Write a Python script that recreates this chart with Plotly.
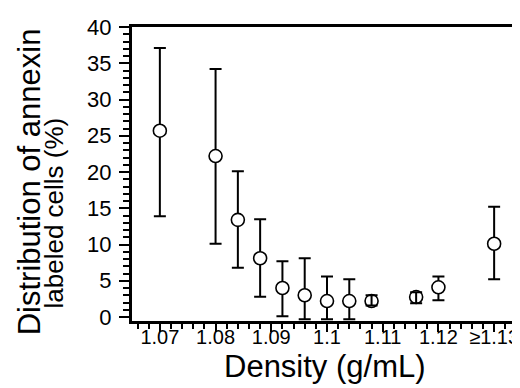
import plotly.graph_objects as go

density = [1.07, 1.08, 1.084, 1.088, 1.092, 1.096, 1.10, 1.104, 1.108, 1.116, 1.12, 1.13]
mean_pct = [25.7, 22.2, 13.4, 8.1, 4.0, 3.0, 2.2, 2.2, 2.2, 2.75, 4.1, 10.1]
upper = [37.1, 34.2, 20.1, 13.5, 7.7, 8.1, 5.6, 5.2, 3.0, 3.4, 5.6, 15.2]
lower = [13.9, 10.1, 6.8, 2.8, 0.1, -0.3, -0.3, -0.3, 1.6, 1.9, 2.3, 5.2]

tick_vals = [1.07, 1.08, 1.09, 1.10, 1.11, 1.12, 1.13]
tick_text = ["1.07", "1.08", "1.09", "1.1", "1.11", "1.12", "≥1.13"]
y_ticks = [0, 5, 10, 15, 20, 25, 30, 35, 40]

x_title = "Density (g/mL)"
y_title_lines = ["Distribution of annexin", "labeled cells (%)"]

err_plus = [u - m for u, m in zip(upper, mean_pct)]
err_minus = [m - l for m, l in zip(mean_pct, lower)]
fill = ["white" if (u - l) > 3 else "rgba(0,0,0,0)" for u, l in zip(upper, lower)]

fig = go.Figure()
fig.add_trace(go.Scatter(
    x=density, y=mean_pct, mode="markers",
    marker=dict(symbol="circle", size=13, color=fill,
                line=dict(color="black", width=1.6)),
    error_y=dict(type="data", array=err_plus, arrayminus=err_minus,
                 color="black", thickness=2, width=6),
    showlegend=False, cliponaxis=False,
))

font = "Liberation Sans, Arial, Helvetica, sans-serif"
fig.update_layout(
    width=520, height=388,
    margin=dict(l=124, r=3, t=19, b=75),
    paper_bgcolor="white", plot_bgcolor="white",
    font=dict(family=font, color="black"),
    xaxis=dict(
        range=[1.065, 1.135], tickvals=tick_vals, ticktext=tick_text,
        ticks="outside", ticklen=8, tickwidth=1.5, tickcolor="black",
        showline=True, linewidth=3, linecolor="black", mirror=True,
        showgrid=False, zeroline=False,
        tickfont=dict(size=20, family=font), ticklabelstandoff=-12,
        minor=dict(dtick=0.002, tick0=1.066, ticks="outside", ticklen=5,
                   tickwidth=1.5, tickcolor="black", showgrid=False),
    ),
    yaxis=dict(
        range=[-0.55, 40], tickvals=y_ticks,
        ticks="outside", ticklen=10, tickwidth=1.5, tickcolor="black",
        showline=True, linewidth=3, linecolor="black", mirror=True,
        showgrid=False, zeroline=False,
        tickfont=dict(size=22, family=font), ticklabelstandoff=3,
        minor=dict(dtick=1, tick0=0, ticks="outside", ticklen=6,
                   tickwidth=1.5, tickcolor="black", showgrid=False),
    ),
)

fig.add_annotation(text=x_title, xref="paper", yref="paper", x=0.496, y=-0.155,
                   xanchor="center", yanchor="middle", showarrow=False,
                   font=dict(size=31, family=font, color="black"))
fig.add_annotation(text=y_title_lines[0], xref="paper", yref="paper", x=-0.262, y=0.4745,
                   xanchor="center", yanchor="middle", textangle=-90, showarrow=False,
                   font=dict(size=31, family=font, color="black"))
fig.add_annotation(text=y_title_lines[1], xref="paper", yref="paper", x=-0.2, y=0.3656,
                   xanchor="center", yanchor="middle", textangle=-90, showarrow=False,
                   font=dict(size=26, family=font, color="black"))

fig.write_html("out.html")
